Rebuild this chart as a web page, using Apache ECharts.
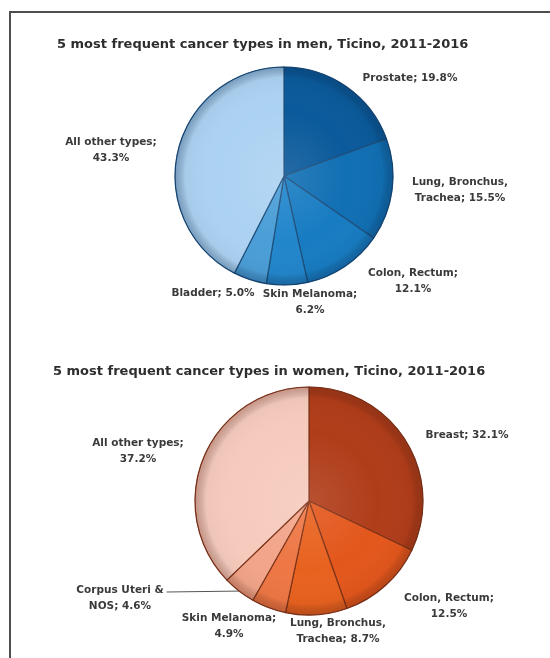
<!DOCTYPE html>
<html>
<head>
<meta charset="utf-8">
<script src="https://cdn.jsdelivr.net/npm/echarts@6/dist/echarts.min.js"></script>
<style>
  html, body { margin: 0; padding: 0; background: #ffffff; }
  #wrap { position: relative; width: 550px; height: 658px; overflow: hidden; background: #fff; }
  #frame { position: absolute; left: 9px; top: 11px; width: 560px; height: 700px;
           border-top: 2px solid #4e4e4e; border-left: 2px solid #4e4e4e; }
  #chart { position: absolute; left: 0; top: 0; width: 550px; height: 658px; }
</style>
</head>
<body>
<div id="wrap">
  <div id="frame"></div>
  <div id="chart"></div>
</div>
<script>
// ---- Data ----
const menTitle = '5 most frequent cancer types in men, Ticino, 2011-2016';
const menCategories = ['Prostate', 'Lung, Bronchus,\nTrachea', 'Colon, Rectum', 'Skin Melanoma', 'Bladder', 'All other types'];
const menValues = [19.8, 15.5, 12.1, 6.2, 5.0, 43.3];
const menValueOnNewLine = [false, false, true, true, false, true];

const womenTitle = '5 most frequent cancer types in women, Ticino, 2011-2016';
const womenCategories = ['Breast', 'Colon, Rectum', 'Lung, Bronchus,\nTrachea', 'Skin Melanoma', 'Corpus Uteri &\nNOS', 'All other types'];
const womenValues = [32.1, 12.5, 8.7, 4.9, 4.6, 37.2];
const womenValueOnNewLine = [false, true, false, true, false, true];

// ---- Styles / layout ----
const menColors = ['#0b5a9b', '#116fb3', '#187cc2', '#2286cb', '#4b9ed7', '#acd2f2'];
const womenColors = ['#b03d1a', '#e3571c', '#e8621f', '#ee7745', '#f2a58a', '#f6cbbd'];
const menLabelPos = [[410, 78], [460, 190], [413, 281], [310, 302], [213, 293], [111, 150]];
const womenLabelPos = [[467, 435], [449, 606], [338, 631], [229, 626], [120, 598], [138, 451]];
const menCenter = [284, 176], menRadius = 109;
const womenCenter = [309, 501], womenRadius = 114;

const labelStyle = {
  fontFamily: '"DejaVu Sans", sans-serif',
  fontWeight: 'bold',
  fontSize: 10.5,
  color: '#3a3a3a',
  lineHeight: 16,
  align: 'center',
  overflow: 'none'
};
const titleStyle = {
  fontFamily: '"DejaVu Sans", sans-serif',
  fontWeight: 'bold',
  fontSize: 13,
  color: '#2e2e2e'
};

function buildData(cats, vals, newLine, colors, borderColor, leaderIdx) {
  return cats.map((c, i) => ({
    name: c,
    value: vals[i],
    itemStyle: { color: colors[i], borderColor: borderColor, borderWidth: 1.2 },
    label: { formatter: c + (newLine[i] ? ';\n' : '; ') + vals[i].toFixed(1) + '%' },
    labelLine: { show: i === leaderIdx }
  }));
}

function layoutFn(pos, leaderIdx) {
  return function (params) {
    const p = pos[params.dataIndex];
    const res = { x: p[0], y: p[1], align: 'center', verticalAlign: 'middle' };
    if (params.dataIndex === leaderIdx && params.labelLinePoints) {
      const w = params.labelRect.width, h = params.labelRect.height;
      const end = [p[0] + w / 2 + 3, p[1] - h / 4 + 2];
      res.labelLinePoints = [params.labelLinePoints[0], end, end];
    }
    return res;
  };
}

function rimSeries(center, radius, rimColor) {
  return {
    type: 'pie',
    silent: true,
    center: center,
    radius: radius,
    z: 5,
    label: { show: false },
    labelLine: { show: false },
    data: [{
      value: 1,
      itemStyle: {
        color: {
          type: 'radial', x: 0.5, y: 0.5, r: 0.5,
          colorStops: [
            { offset: 0, color: 'rgba(255,255,255,0.10)' },
            { offset: 0.6, color: 'rgba(255,255,255,0)' },
            { offset: 0.9, color: 'rgba(0,0,0,0.03)' },
            { offset: 1, color: rimColor }
          ]
        },
        borderColor: rimColor,
        borderWidth: 1
      }
    }]
  };
}

const chart = echarts.init(document.getElementById('chart'), null, { renderer: 'canvas' });
chart.setOption({
  backgroundColor: 'transparent',
  animation: false,
  title: [
    { text: menTitle, left: 57, top: 38, padding: 0, textStyle: titleStyle },
    { text: womenTitle, left: 53, top: 365, padding: 0, textStyle: titleStyle }
  ],
  series: [
    {
      type: 'pie',
      center: menCenter,
      radius: menRadius,
      startAngle: 90,
      clockwise: true,
      z: 2,
      label: Object.assign({ show: true, position: 'outside' }, labelStyle),
      labelLine: { show: false },
      labelLayout: layoutFn(menLabelPos, -1),
      data: buildData(menCategories, menValues, menValueOnNewLine, menColors, '#1d4f7c', -1)
    },
    rimSeries(menCenter, menRadius, 'rgba(10,50,95,0.35)'),
    {
      type: 'pie',
      center: womenCenter,
      radius: womenRadius,
      startAngle: 90,
      clockwise: true,
      z: 2,
      label: Object.assign({ show: true, position: 'outside' }, labelStyle),
      labelLine: { show: false, lineStyle: { color: '#555', width: 1 }, length: 20, length2: 40 },
      labelLayout: layoutFn(womenLabelPos, 4),
      data: buildData(womenCategories, womenValues, womenValueOnNewLine, womenColors, '#7e3218', 4)
    },
    rimSeries(womenCenter, womenRadius, 'rgba(110,40,20,0.35)')
  ]
});
</script>
</body>
</html>
